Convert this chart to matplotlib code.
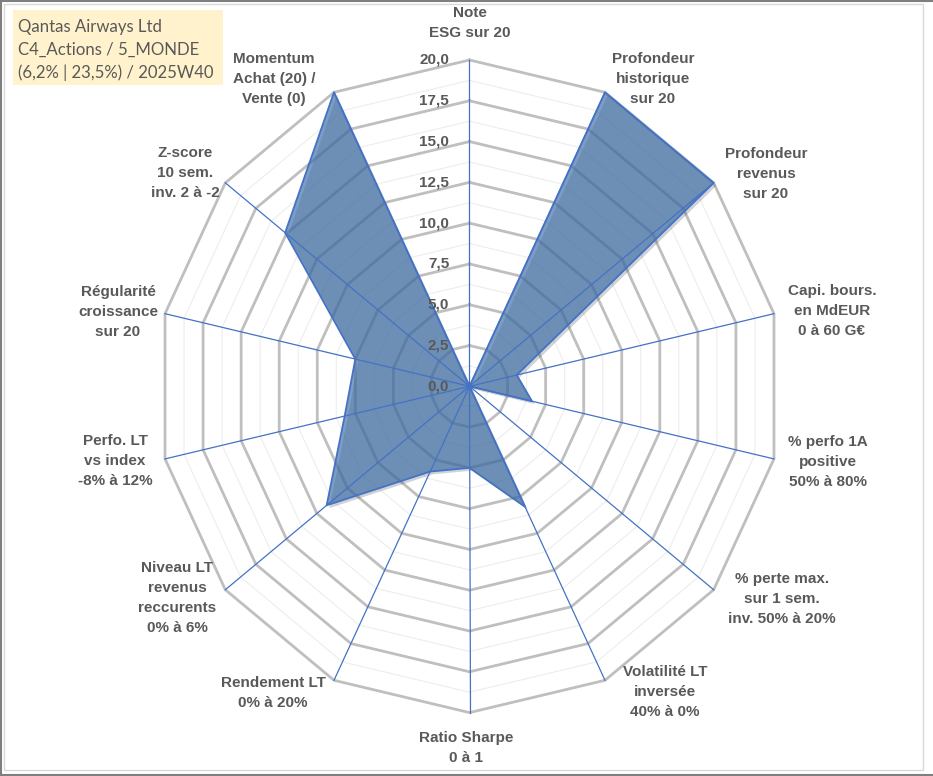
import matplotlib
matplotlib.use('Agg')
import matplotlib.pyplot as plt
import matplotlib.patheffects as pe
import numpy as np

# Axes of the radar, clockwise from the top
labels = ['Note\nESG sur 20',
          'Profondeur\nhistorique\nsur 20',
          'Profondeur\nrevenus\nsur 20',
          'Capi. bours.\nen MdEUR\n0 à 60 G€',
          '% perfo 1A\npositive\n50% à 80%',
          '% perte max.\nsur 1 sem.\ninv. 50% à 20%',
          'Volatilité LT\ninversée\n40% à 0%',
          'Ratio Sharpe\n0 à 1',
          'Rendement LT\n0% à 20%',
          'Niveau LT\nrevenus\nreccurents\n0% à 6%',
          'Perfo. LT\nvs index\n-8% à 12%',
          'Régularité\ncroissance\nsur 20',
          'Z-score\n10 sem.\ninv. 2 à -2',
          'Momentum\nAchat (20) /\nVente (0)']
scores = [0, 20, 20, 3.1, 4.1, 0, 8.2, 5.0, 5.8, 11.7, 8.2, 7.5, 15.1, 20]
ticks = [0, 2.5, 5, 7.5, 10, 12.5, 15, 17.5, 20]
tick_labels = ['0,0', '2,5', '5,0', '7,5', '10,0', '12,5', '15,0', '17,5', '20,0']
minor_ticks = [1.25, 3.75, 6.25, 8.75, 11.25, 13.75, 16.25, 18.75]
info = ['Qantas Airways Ltd', 'C4_Actions / 5_MONDE', '(6,2% | 23,5%) / 2025W40']

# label centres in pixels (layout)
label_pos = [(470, 23), (653, 79), (766, 174), (832, 311), (828, 462), (782, 599),
             (665, 692), (466, 748), (273, 693), (177, 598), (115, 461), (118, 312),
             (185, 173), (274, 79)]

W, H = 933, 776
cx, cy = 469.5, 386.3      # centre in pixels
rx, ry = 312.3, 326.3      # pixels for 20 units

fig = plt.figure(figsize=(W / 100, H / 100), dpi=100)
ax = fig.add_axes([0, 0, 1, 1])
ax.set_xlim(-cx / rx * 20, (W - cx) / rx * 20)
ax.set_ylim(-(H - cy) / ry * 20, cy / ry * 20)
ax.axis('off')

n = len(labels)
theta = np.arange(n) * 2 * np.pi / n
ring_t = np.append(theta, theta[0])

for r in minor_ticks:
    ax.plot(r * np.sin(ring_t), r * np.cos(ring_t), color='#EDEDED', lw=0.8, zorder=1)
for r in ticks[1:]:
    ax.plot(r * np.sin(ring_t), r * np.cos(ring_t), color='#BFBFBF', lw=2.0, zorder=1)

vals = np.array(scores)
px = vals * np.sin(theta)
py = vals * np.cos(theta)
ax.fill(px, py, facecolor='#3F6FA8', alpha=0.68, edgecolor='none', zorder=2,
        path_effects=[pe.SimplePatchShadow(offset=(2, -2), alpha=0.2), pe.Normal()])
ax.plot(np.append(px, px[0]), np.append(py, py[0]), color='#4472C4', lw=1.3, zorder=3)

for t in theta:
    ax.plot([0, 20 * np.sin(t)], [0, 20 * np.cos(t)], color='#4472C4', lw=0.9, zorder=4)
ax.plot(0, 0, 'o', color='#4472C4', ms=3, zorder=4)

for v, s in zip(ticks, tick_labels):
    ax.text(-1.3, v, s, ha='right', va='center', fontsize=11, fontweight='bold',
            color='#595959', family='Liberation Sans', zorder=5)

for (lx, ly), s in zip(label_pos, labels):
    fig.text(lx / W, 1 - ly / H, s, ha='center', va='center', multialignment='center',
             fontsize=11, fontweight='bold', color='#595959', family='Liberation Sans',
             linespacing=1.52)

# info box
fig.add_artist(plt.Rectangle((13 / W, 1 - 85 / H), 210 / W, 75 / H, transform=fig.transFigure,
                             facecolor='#FFF2CC', edgecolor='none'))
fig.text(18 / W, 1 - 19 / H, '\n'.join(info), ha='left', va='top', fontsize=12.1,
         color='#595959', family='Lato', linespacing=1.5)

# frame
fig.add_artist(plt.Rectangle((4 / W, 1 - 770 / H), 919 / W, 766 / H, transform=fig.transFigure,
                             facecolor='none', edgecolor='#D9D9D9', lw=1))
fig.add_artist(plt.Line2D([1 / W, 1 / W], [0, 1], color='#7F7F7F', lw=1.5))
fig.add_artist(plt.Line2D([0, 1], [1 - 1 / H, 1 - 1 / H], color='#7F7F7F', lw=1.5))
fig.add_artist(plt.Line2D([0, 1], [1 - 775 / H, 1 - 775 / H], color='#7F7F7F', lw=1.5))

fig.savefig('out.png', dpi=100)
